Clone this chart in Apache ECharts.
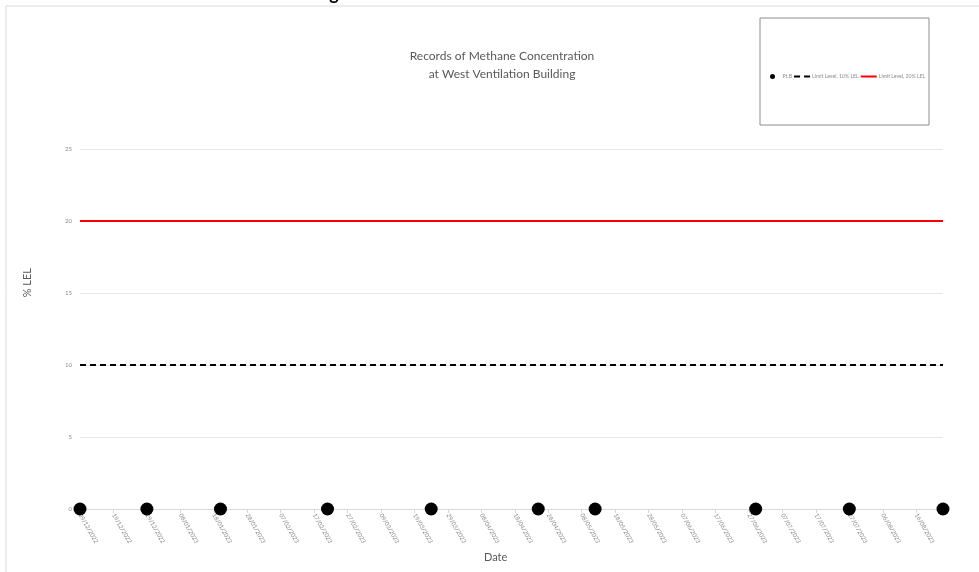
<!DOCTYPE html>
<html>
<head>
<meta charset="utf-8">
<script src="https://cdn.jsdelivr.net/npm/echarts@6/dist/echarts.min.js"></script>
<style>html,body{margin:0;padding:0;background:#fff;}#c{width:979px;height:572px;}</style>
</head>
<body>
<div id="c"></div>
<script>
// ---- data ----
const titleLines = ['Records of Methane Concentration', 'at West Ventilation Building'];
const seriesNames = ['Pt.B', 'Limit Level, 10% LEL', 'Limit Level, 20% LEL'];
const sampleDates = ['2022-12-09','2022-12-29','2023-01-20','2023-02-21','2023-03-24','2023-04-25','2023-05-12','2023-06-29','2023-07-27','2023-08-24'];
const ptB = [0, 0, 0, 0, 0, 0, 0, 0, 0, 0];
const limit10 = 10;
const limit20 = 20;
const xRange = ['2022-12-09', '2023-08-24'];
const xTickDays = 10;
const yTicks = [0, 5, 10, 15, 20, 25];
const xTitle = 'Date';
const yTitle = '% LEL';

// ---- helpers ----
const ts = s => { const p = s.split('-'); return Date.UTC(+p[0], +p[1]-1, +p[2]); };
const pad = n => (n < 10 ? '0' : '') + n;
const fmt = v => { const d = new Date(v); return pad(d.getUTCDate()) + '/' + pad(d.getUTCMonth()+1) + '/' + d.getUTCFullYear(); };
const DAY = 86400000;
const xMin = ts(xRange[0]), xMax = ts(xRange[1]);
const FONT = 'Lato, "Open Sans", sans-serif';

const chart = echarts.init(document.getElementById('c'), null, {renderer: 'canvas'});
chart.setOption({
  backgroundColor: '#fff',
  animation: false,
  title: {
    text: titleLines.join('\n'),
    left: 497, textAlign: 'center', top: 42,
    textStyle: {fontFamily: FONT, fontSize: 12, fontWeight: 'normal', color: '#595959', lineHeight: 18}
  },
  legend: {
    left: 765, top: 69,
    itemWidth: 16, itemHeight: 5, itemGap: 1,
    textStyle: {fontFamily: FONT, fontSize: 5.2, color: '#8c8c8c', padding: [0, 0, 0, -3]},
    data: [
      {name: seriesNames[0], icon: 'circle', itemStyle: {opacity: 1}},
      {name: seriesNames[1], itemStyle: {opacity: 0}},
      {name: seriesNames[2], itemStyle: {opacity: 0}}
    ]
  },
  grid: {left: 80, right: 36, top: 149, bottom: 63, containLabel: false},
  xAxis: {
    type: 'value', min: xMin, max: xMax, interval: xTickDays * DAY,
    axisLine: {show: true, lineStyle: {color: '#d9d9d9', width: 1}},
    axisTick: {show: true, length: 4, lineStyle: {color: '#d9d9d9'}},
    splitLine: {show: false},
    axisLabel: {
      rotate: -60, fontSize: 6, color: '#8c8c8c', fontFamily: FONT, margin: 5,
      showMaxLabel: false,
      formatter: v => fmt(v)
    }
  },
  yAxis: {
    type: 'value', min: yTicks[0], max: yTicks[yTicks.length-1], interval: yTicks[1]-yTicks[0],
    axisLine: {show: false}, axisTick: {show: false},
    splitLine: {show: true, lineStyle: {color: '#e6e6e6', width: 1}},
    axisLabel: {fontSize: 6, color: '#8c8c8c', fontFamily: FONT, margin: 8}
  },
  graphic: [
    {type: 'rect', shape: {x: 6, y: 6, width: 1000, height: 600}, style: {fill: 'none', stroke: '#d9d9d9', lineWidth: 1}, silent: true, z: -10},
    {type: 'rect', shape: {x: 760, y: 18, width: 169, height: 107}, style: {fill: 'none', stroke: '#8c8c8c', lineWidth: 1}, silent: true},
    {type: 'text', left: 22, top: 268, rotation: Math.PI/2, style: {text: yTitle, fontFamily: FONT, fontSize: 11, fill: '#595959'}},
    {type: 'text', left: 484, top: 552, style: {text: xTitle, fontFamily: FONT, fontSize: 11, fill: '#595959'}},
    {type: 'text', x: 334, y: -15, style: {text: 'g', fontFamily: FONT, fontSize: 18, fontWeight: 'bold', fill: '#000', textAlign: 'center', textVerticalAlign: 'top'}}
  ],
  series: [
    {
      name: seriesNames[0], type: 'scatter', symbol: 'circle', symbolSize: 13,
      itemStyle: {color: '#000', opacity: 1}, clip: false, z: 5,
      data: sampleDates.map((d, i) => [ts(d), ptB[i]])
    },
    {
      name: seriesNames[1], type: 'line', symbol: 'none',
      lineStyle: {color: '#000', width: 2, type: [6, 4]}, itemStyle: {color: '#000'},
      data: [[xMin, limit10], [xMax, limit10]]
    },
    {
      name: seriesNames[2], type: 'line', symbol: 'none',
      lineStyle: {color: '#ff0000', width: 2}, itemStyle: {color: '#ff0000'},
      data: [[xMin, limit20], [xMax, limit20]]
    }
  ]
});
</script>
</body>
</html>
